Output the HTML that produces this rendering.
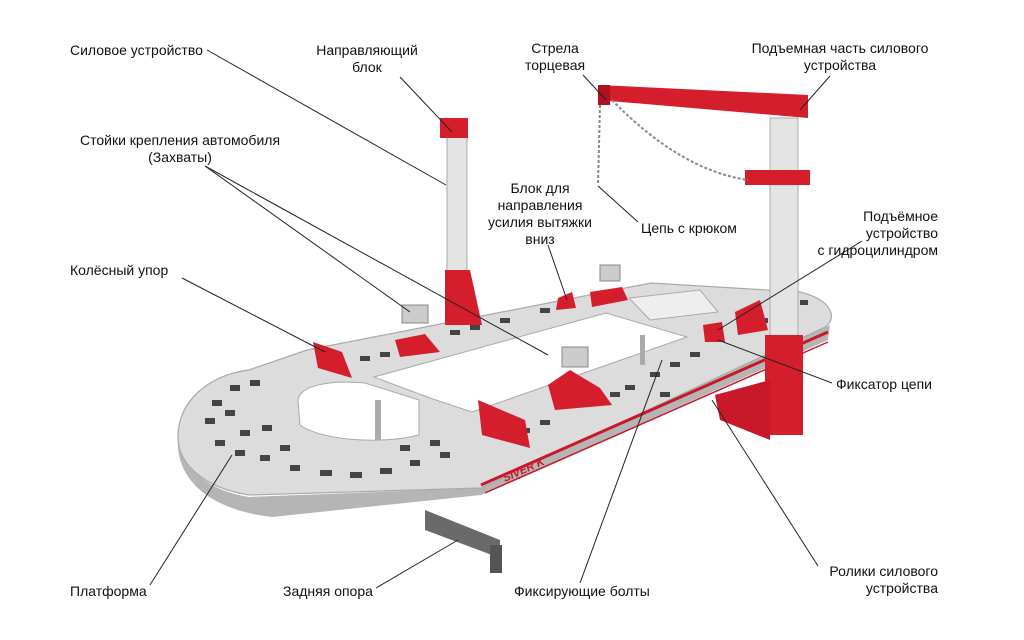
<!DOCTYPE html>
<html><head><meta charset="utf-8"><style>
html,body{margin:0;padding:0;background:#fff;}
#w{position:relative;width:1024px;height:640px;overflow:hidden;font-family:"Liberation Sans Narrow","Liberation Sans",sans-serif;font-size:14px;color:#111;}
.t{position:absolute;line-height:17px;white-space:nowrap;}
.c{text-align:center;}
.r{text-align:right;}
svg{position:absolute;left:0;top:0;}
</style></head><body><div id="w">
<svg width="1024" height="640" viewBox="0 0 1024 640">
<!-- rear support -->
<polygon points="425,510 500,540 500,558 425,530" fill="#6a6a6a"/>
<rect x="490" y="545" width="12" height="28" fill="#555"/>
<!-- platform side face -->
<path d="M178,437 C175,480 210,510 272,517 L481,495 L828,340 L830,325 L481,488 L249,497 C205,490 180,465 178,437 Z" fill="#b5b5b5"/>
<!-- platform top -->
<path d="M178,437 C178,400 210,375 249,370 L307,350 L651,283 L800,292 C832,300 838,318 825,327 L481,488 L249,495 C205,488 178,465 178,437 Z" fill="#dcdcdc" stroke="#aaa" stroke-width="1.2"/>
<!-- openings -->
<path d="M298,400 C300,385 330,380 365,383 L419,400 L419,435 C380,445 320,440 300,425 Z" fill="#fff" stroke="#aaa"/>
<path d="M374,377 L606,313 L687,337 L472,412 L430,398 Z" fill="#fff" stroke="#aaa"/>
<path d="M629,298 L700,290 L718,312 L650,320 Z" fill="#eee" stroke="#aaa"/>
<rect x="375" y="400" width="6" height="40" fill="#aaa"/>
<rect x="640" y="335" width="5" height="30" fill="#aaa"/>
<!-- holes -->
<g fill="#444">
<rect x="230" y="385" width="10" height="6"/><rect x="250" y="380" width="10" height="6"/><rect x="212" y="400" width="10" height="6"/><rect x="205" y="418" width="10" height="6"/><rect x="225" y="410" width="10" height="6"/><rect x="240" y="430" width="10" height="6"/><rect x="215" y="440" width="10" height="6"/><rect x="235" y="450" width="10" height="6"/><rect x="260" y="455" width="10" height="6"/><rect x="262" y="425" width="10" height="6"/><rect x="280" y="445" width="10" height="6"/><rect x="290" y="465" width="10" height="6"/><rect x="320" y="470" width="12" height="6"/><rect x="350" y="472" width="12" height="6"/><rect x="380" y="468" width="12" height="6"/><rect x="410" y="460" width="10" height="6"/><rect x="440" y="452" width="10" height="6"/><rect x="430" y="440" width="10" height="6"/><rect x="400" y="445" width="10" height="6"/>
<rect x="360" y="356" width="10" height="5"/><rect x="380" y="352" width="10" height="5"/><rect x="400" y="345" width="10" height="5"/><rect x="450" y="330" width="10" height="5"/><rect x="470" y="325" width="10" height="5"/><rect x="500" y="318" width="10" height="5"/><rect x="540" y="308" width="10" height="5"/>
<rect x="520" y="428" width="10" height="5"/><rect x="540" y="420" width="10" height="5"/><rect x="610" y="392" width="10" height="5"/><rect x="625" y="385" width="10" height="5"/><rect x="650" y="372" width="10" height="5"/><rect x="670" y="362" width="10" height="5"/><rect x="690" y="352" width="10" height="5"/><rect x="660" y="392" width="10" height="5"/>
<rect x="760" y="318" width="8" height="5"/><rect x="800" y="300" width="8" height="5"/>
</g>
<path d="M481,485 L828,332" stroke="#c8182a" stroke-width="3"/>
<path d="M485,493 L828,342" stroke="#c8182a" stroke-width="1.5"/>
<text x="505" y="482" font-size="11" fill="#c8182a" font-style="italic" font-weight="bold" transform="rotate(-24 505 482)">SIVER K</text>
<!-- left pillar -->
<rect x="447" y="135" width="20" height="150" fill="#e4e4e4" stroke="#aaa"/>
<polygon points="445,270 470,270 482,325 445,325" fill="#d41e2c"/>
<rect x="440" y="118" width="28" height="20" fill="#d41e2c"/>
<!-- right pillar -->
<rect x="770" y="118" width="28" height="230" fill="#e4e4e4" stroke="#aaa"/>
<rect x="765" y="335" width="38" height="100" fill="#d41e2c"/>
<polygon points="715,395 770,380 770,440 720,420" fill="#c8182a"/>
<rect x="745" y="170" width="65" height="15" fill="#d41e2c"/>
<!-- boom -->
<polygon points="598,85 808,95 808,118 598,100" fill="#d41e2c"/>
<rect x="598" y="85" width="12" height="20" fill="#b01020"/>
<!-- chain -->
<path d="M612,100 Q680,170 748,180" stroke="#888" stroke-width="2" stroke-dasharray="3 2" fill="none"/>
<path d="M600,105 L598,185" stroke="#888" stroke-width="2" stroke-dasharray="3 2" fill="none"/>
<!-- red fixtures -->
<g fill="#d41e2c">
<polygon points="313,342 342,352 352,378 318,368"/>
<polygon points="395,340 425,334 440,352 400,357"/>
<polygon points="478,400 525,420 530,448 482,435"/>
<polygon points="548,385 570,370 600,388 612,405 555,410"/>
<polygon points="590,292 622,287 628,300 592,307"/>
<polygon points="558,298 572,292 576,308 556,310"/>
<polygon points="703,325 722,322 725,342 705,342"/>
<polygon points="735,312 760,300 768,330 738,335"/>
</g>
<g fill="#ccc" stroke="#888">
<rect x="402" y="305" width="26" height="18"/><rect x="562" y="347" width="26" height="20"/><rect x="600" y="265" width="20" height="16"/>
</g>
<!-- leader lines -->
<g stroke="#222" stroke-width="1" fill="none">
<line x1="207" y1="50" x2="446" y2="185"/>
<line x1="400" y1="77" x2="452" y2="132"/>
<line x1="583" y1="75" x2="606" y2="100"/>
<line x1="830" y1="76" x2="800" y2="110"/>
<line x1="205" y1="166" x2="410" y2="312"/>
<line x1="205" y1="166" x2="548" y2="355"/>
<line x1="548" y1="245" x2="567" y2="300"/>
<line x1="638" y1="222" x2="598" y2="186"/>
<line x1="862" y1="241" x2="718" y2="330"/>
<line x1="182" y1="278" x2="325" y2="352"/>
<line x1="832" y1="383" x2="718" y2="340"/>
<line x1="150" y1="585" x2="232" y2="455"/>
<line x1="376" y1="588" x2="458" y2="540"/>
<line x1="580" y1="583" x2="662" y2="360"/>
<line x1="818" y1="566" x2="712" y2="400"/>
</g>
</svg>
<div class="t" style="left:70px;top:42px">Силовое устройство</div>
<div class="t c" style="left:307px;top:42px;width:120px">Направляющий<br>блок</div>
<div class="t c" style="left:505px;top:40px;width:100px">Стрела<br>торцевая</div>
<div class="t c" style="left:740px;top:40px;width:200px">Подъемная часть силового<br>устройства</div>
<div class="t c" style="left:80px;top:132px;width:200px">Стойки крепления автомобиля<br>(Захваты)</div>
<div class="t c" style="left:470px;top:180px;width:140px">Блок для<br>направления<br>усилия вытяжки<br>вниз</div>
<div class="t" style="left:641px;top:220px">Цепь с крюком</div>
<div class="t r" style="left:780px;top:208px;width:158px">Подъёмное<br>устройство<br>с гидроцилиндром</div>
<div class="t" style="left:70px;top:262px">Колёсный упор</div>
<div class="t" style="left:836px;top:376px">Фиксатор цепи</div>
<div class="t" style="left:70px;top:583px">Платформа</div>
<div class="t" style="left:283px;top:583px">Задняя опора</div>
<div class="t" style="left:514px;top:583px">Фиксирующие болты</div>
<div class="t r" style="left:780px;top:563px;width:158px">Ролики силового<br>устройства</div>
</div></body></html>
